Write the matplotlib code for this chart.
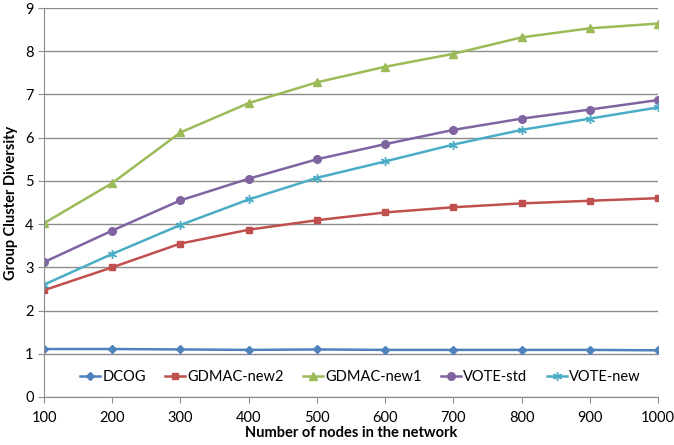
import matplotlib.pyplot as plt

plt.rcParams['font.family'] = ['Lato', 'DejaVu Sans']

nodes = [100, 200, 300, 400, 500, 600, 700, 800, 900, 1000]
dcog = [1.11, 1.11, 1.10, 1.09, 1.10, 1.09, 1.09, 1.09, 1.09, 1.08]
gdmac_new2 = [2.47, 3.00, 3.55, 3.87, 4.09, 4.27, 4.39, 4.48, 4.54, 4.60]
gdmac_new1 = [4.02, 4.95, 6.12, 6.80, 7.28, 7.64, 7.94, 8.32, 8.53, 8.64]
vote_std = [3.12, 3.85, 4.55, 5.05, 5.50, 5.85, 6.18, 6.44, 6.65, 6.87]
vote_new = [2.60, 3.31, 3.98, 4.57, 5.07, 5.45, 5.84, 6.18, 6.44, 6.70]

series = [
    ('DCOG', dcog, '#4F81BD', 'D', 4),
    ('GDMAC-new2', gdmac_new2, '#C0504D', 's', 5),
    ('GDMAC-new1', gdmac_new1, '#9BBB59', '^', 6),
    ('VOTE-std', vote_std, '#8064A2', 'o', 5.5),
    ('VOTE-new', vote_new, '#4BACC6', (6, 2, 0), 6.5),
]

fig = plt.figure(figsize=(6.74, 4.45), dpi=100)
ax = fig.add_axes([44/674, 48/445, 614/674, 389/445])

pos = list(range(len(nodes)))
for name, vals, c, m, ms in series:
    ax.plot(pos, vals, color=c, lw=1.8, marker=m, markersize=ms,
            markerfacecolor=c, markeredgecolor=c, markeredgewidth=1.0, label=name)

ax.set_xlim(0, len(nodes) - 1)
ax.set_ylim(0, 9)
ax.set_xticks(pos)
ax.set_xticklabels([str(n) for n in nodes])
ax.set_yticks(range(0, 10))
ax.yaxis.grid(True, color='#8C8C8C', lw=1)
ax.set_axisbelow(True)
for s in ['top', 'right']:
    ax.spines[s].set_visible(False)
for s in ['left', 'bottom']:
    ax.spines[s].set_color('#8C8C8C')
ax.tick_params(axis='both', colors='#8C8C8C', labelcolor='black', labelsize=10.5, length=4)
ax.tick_params(axis='x', pad=6)

ax.set_xlabel('Number of nodes in the network', fontsize=10.5, fontweight='bold', labelpad=1)
ax.set_ylabel('Group Cluster Diversity', fontsize=10.5, fontweight='bold', labelpad=5)

ax.legend(loc='lower center', bbox_to_anchor=(0.515, 0.0), ncol=5, frameon=False,
          fontsize=10.5, handlelength=1.4, columnspacing=1.3, handletextpad=0.15)

fig.savefig('out.png', dpi=100)
